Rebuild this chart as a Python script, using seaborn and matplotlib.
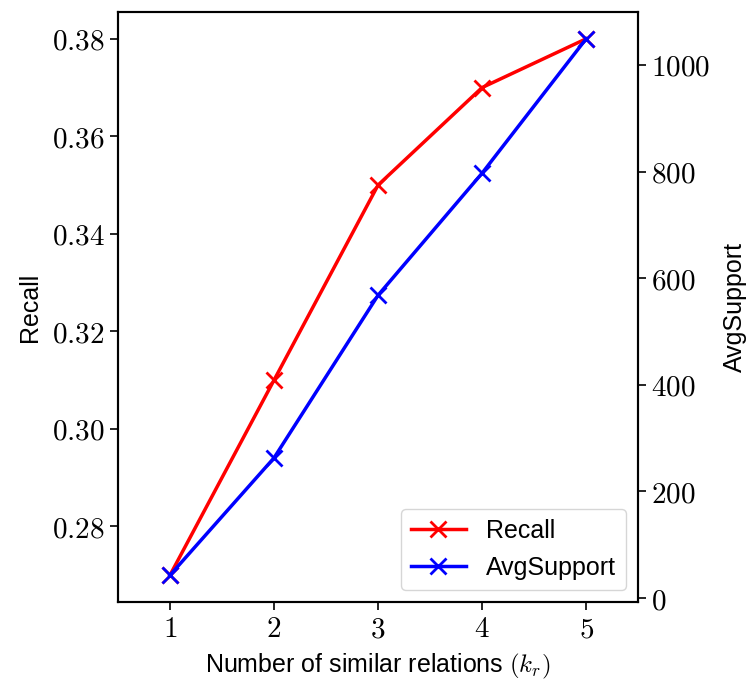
import matplotlib
matplotlib.use("Agg")
import matplotlib.pyplot as plt
from matplotlib.ticker import FuncFormatter
import seaborn as sns

k_values = [1, 2, 3, 4, 5]
recall = [0.27, 0.31, 0.35, 0.37, 0.38]
avg_support = [43, 263, 568, 797, 1049]

plt.rcParams['mathtext.fontset'] = 'cm'
plt.rcParams['font.family'] = ['Liberation Sans', 'DejaVu Sans']

fig = plt.figure(figsize=(7.49, 6.8), dpi=100)
ax = fig.add_axes([0.1575, 0.1147, 0.6945, 0.8677])

sns.lineplot(x=k_values, y=recall, ax=ax, color='red', marker='x',
             markersize=12, markeredgewidth=2, markeredgecolor='red',
             linewidth=2.5, legend=False)
ax2 = ax.twinx()
sns.lineplot(x=k_values, y=avg_support, ax=ax2, color='blue', marker='x',
             markersize=12, markeredgewidth=2, markeredgecolor='blue',
             linewidth=2.5, legend=False)

ax.set_xticks(k_values)
ax.set_xlim(0.5, 5.5)
ax.xaxis.set_major_formatter(FuncFormatter(lambda v, p: f'${v:.0f}$'))
ax.yaxis.set_major_formatter(FuncFormatter(lambda v, p: f'${v:.2f}$'))
ax2.yaxis.set_major_formatter(FuncFormatter(lambda v, p: f'${v:.0f}$'))

for a in (ax, ax2):
    a.tick_params(labelsize=21, width=1.2, length=6)
    for s in a.spines.values():
        s.set_linewidth(1.5)

ax.set_xlabel(r'Number of similar relations $(k_r)$', fontsize=18, labelpad=6)
ax.set_ylabel('Recall', fontsize=18, labelpad=7)
ax2.set_ylabel('AvgSupport', fontsize=18, labelpad=9)

handles = [ax.lines[0], ax2.lines[0]]
ax2.legend(handles, ['Recall', 'AvgSupport'], loc='lower right', fontsize=18,
           handlelength=2.2)

fig.savefig('out.png', dpi=100)
